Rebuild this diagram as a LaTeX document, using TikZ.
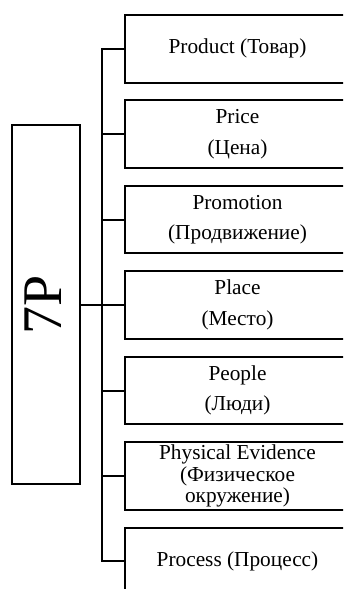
\documentclass[tikz,border=0pt]{standalone}
\usepackage{fontspec}
\setmainfont{Liberation Serif}

\begin{document}
\begin{tikzpicture}
[
    x=1pt, y=-1pt,
    every node/.style={font=\fontsize{21.3}{21.5}\selectfont},
    item/.style={draw, line width=2pt, anchor=north west, minimum width=225pt, minimum height=67.5pt, align=center, inner sep=0pt},
    hub/.style={draw, line width=2pt, rotate=90, minimum width=359.6pt, minimum height=68.3pt, inner sep=0pt, font=\fontsize{56}{60}\selectfont, text depth=4.6pt},
    link/.style={line width=2pt},
]
\clip (0,0) rectangle (343,589);
\node [item] (product) at (124,14) {Product (Товар)};
\node [item] (price) at (124,99.45) {Price\\[9pt](Цена)};
\node [item] (promotion) at (124,184.9) {Promotion\\[9pt](Продвижение)};
\node [item] (place) at (124,270.35) {Place\\[9pt](Место)};
\node [item] (people) at (124,355.8) {People\\[9pt](Люди)};
\node [item] (evidence) at (124,441.25) {Physical Evidence\\(Физическое\\окружение)};
\node [item] (process) at (124,526.7) {Process (Процесс)};
\node [hub] (sevenp) at (45.85,304.5) {7P};
\coordinate (spine) at (102,0);
% spine and stubs
\draw [link] (product.west) -- (product.west -| spine) -- (process.west -| spine) -- (process.west);
\draw [link] (price.west) -- (price.west -| spine);
\draw [link] (promotion.west) -- (promotion.west -| spine);
\draw [link] (place.west) -- (place.west -| spine);
\draw [link] (people.west) -- (people.west -| spine);
\draw [link] (evidence.west) -- (evidence.west -| spine);
\draw [link] (sevenp.south) -- (sevenp.south -| spine);
\end{tikzpicture}
\end{document}
